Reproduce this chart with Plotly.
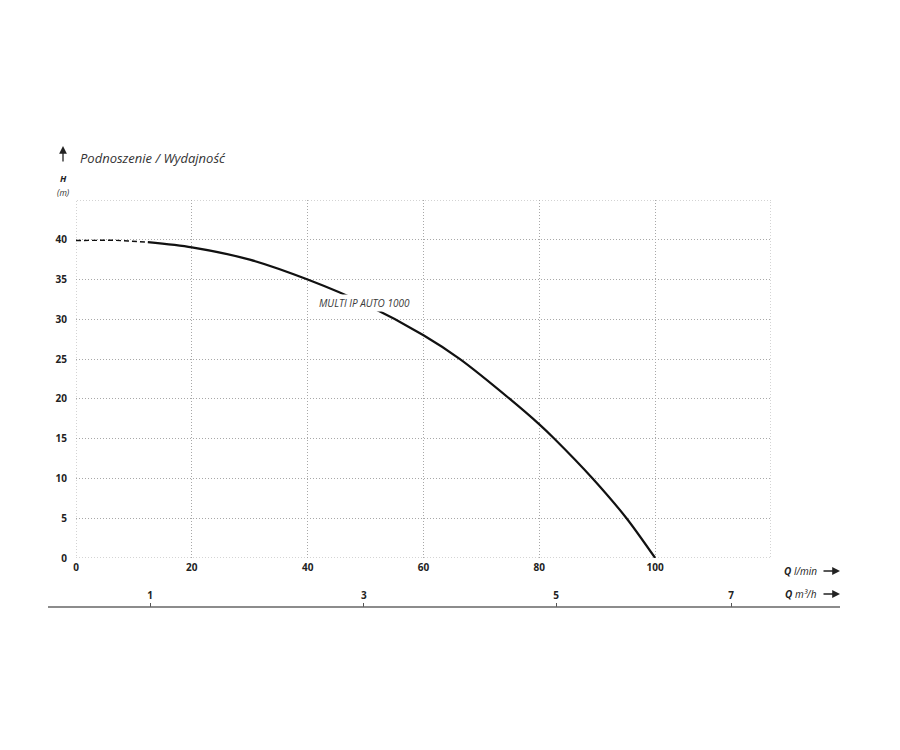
import plotly.graph_objects as go

# Data
q_dashed = [0, 3, 6, 9, 12.4]
h_dashed = [39.9, 39.95, 39.95, 39.85, 39.7]

q_solid = [12.4, 20, 30, 40, 50, 60, 66.3, 74.9, 80, 82.6, 89.2, 95.05, 100]
h_solid = [39.7, 39.05, 37.5, 35.0, 31.9, 28.0, 25.0, 20.0, 16.8, 15.0, 10.0, 5.0, 0.0]

x_tickvals = [0, 20, 40, 60, 80, 100, 120]
x_ticktext = ["0", "20", "40", "60", "80", "100", ""]
y_tickvals = [0, 5, 10, 15, 20, 25, 30, 35, 40, 45]
y_ticktext = ["0", "5", "10", "15", "20", "25", "30", "35", "40", ""]
x_range = [0, 120]
y_range = [0, 45]

# secondary Q (m3/h) scale: tick positions as drawn (in l/min units) and labels
m3h_tick_pos = [12.8, 49.7, 82.9, 113.1]
m3h_tick_text = ["1", "3", "5", "7"]

curve_name = "MULTI IP AUTO 1000"
title_text = "Podnoszenie / Wydajność"

FONT = "Open Sans"
OFF = 8  # page body margin

fig = go.Figure()
fig.add_trace(go.Scatter(x=q_dashed, y=h_dashed, mode="lines",
                         line=dict(color="#111", width=1.4, dash="5px,3px"),
                         showlegend=False, hoverinfo="skip"))
fig.add_trace(go.Scatter(x=q_solid, y=h_solid, mode="lines",
                         line=dict(color="#111", width=2.2, shape="spline", smoothing=0.8),
                         showlegend=False, hoverinfo="skip"))
fig.add_trace(go.Scatter(x=[0], y=[0], xaxis="x2", yaxis="y", mode="markers",
                         marker=dict(opacity=0), showlegend=False, hoverinfo="skip"))

W, H = 900, 750
l = 76 - OFF
t = 200 - OFF
pw = 695
r = W - l - pw
bottom_line = 607 - OFF
b = H - bottom_line
ph = H - t - b
ydom0 = (bottom_line - (558 - OFF)) / ph

GRIDC = "#a8a8a8"
GRIDDASH = "1px,2px"
grid = dict(showgrid=True, gridcolor=GRIDC, griddash=GRIDDASH, gridwidth=1,
            zeroline=False, showline=False, ticks="")
tickfont = dict(size=10, family=FONT, weight="bold", color="#222")

fig.update_layout(
    width=W, height=H,
    margin=dict(t=t, b=b, l=l, r=r),
    paper_bgcolor="white", plot_bgcolor="white",
    font=dict(family=FONT, color="#222"),
    xaxis=dict(range=x_range, tickvals=x_tickvals, ticktext=x_ticktext,
               tickfont=tickfont, anchor="y", ticklabelstandoff=2, **grid),
    yaxis=dict(range=y_range, tickvals=y_tickvals, ticktext=y_ticktext,
               domain=[ydom0, 1], tickfont=tickfont, ticklabelstandoff=8, **grid),
    xaxis2=dict(range=x_range, overlaying="x", anchor="free", position=0,
                side="top", showgrid=False, zeroline=False, showline=False,
                tickvals=m3h_tick_pos, ticktext=m3h_tick_text,
                ticks="outside", ticklen=4, tickcolor="#555", tickwidth=1,
                tickfont=tickfont),
)

# dotted frame (edge grid lines)
fig.add_shape(type="rect", xref="x", yref="y", x0=x_range[0], x1=x_range[1],
              y0=y_range[0], y1=y_range[1], layer="below",
              line=dict(color=GRIDC, width=1, dash=GRIDDASH))


def px_x(p):
    return (p - OFF - l) / pw


def px_y(p):
    return (H - b - (p - OFF)) / ph


# bottom axis line for m3/h scale (extends beyond the plot area)
fig.add_shape(type="line", xref="paper", yref="paper", x0=px_x(48), x1=px_x(840), y0=0, y1=0,
              line=dict(color="#666", width=1.5))

# curve label
fig.add_annotation(x=49.8, y=32.0, xref="x", yref="y", text="<i>" + curve_name + "</i>",
                   xanchor="center", yanchor="middle",
                   showarrow=False, bgcolor="white", font=dict(size=10, family=FONT, color="#3a3a3a"),
                   borderpad=1)

# title with up arrow
fig.add_annotation(x=px_x(78), y=px_y(158), xref="paper", yref="paper",
                   xanchor="left", yanchor="middle",
                   text="<i>" + title_text + "</i>", showarrow=False,
                   font=dict(size=13, family=FONT, color="#333"))
fig.add_annotation(x=px_x(63), y=px_y(146), xref="paper", yref="paper", text="",
                   showarrow=True, ax=0, ay=17, arrowhead=2, arrowsize=1.2, arrowwidth=1.3,
                   arrowcolor="#222")
fig.add_annotation(x=px_x(63), y=px_y(178), xref="paper", yref="paper",
                   xanchor="center", yanchor="middle", borderpad=0,
                   text="<b><i>H</i></b>", showarrow=False, font=dict(size=9, family=FONT, color="#222"))
fig.add_annotation(x=px_x(63), y=px_y(192), xref="paper", yref="paper",
                   xanchor="center", yanchor="middle", borderpad=0,
                   text="<i>(m)</i>", showarrow=False, font=dict(size=8.5, family=FONT, color="#333"))

# axis unit labels with arrows
fig.add_annotation(x=px_x(819), y=px_y(571), xref="paper", yref="paper",
                   xanchor="right", yanchor="middle",
                   text="<b><i>Q</i></b> <i>l/min</i>", showarrow=False,
                   font=dict(size=10, family=FONT, color="#222"))
fig.add_annotation(x=px_x(819), y=px_y(594), xref="paper", yref="paper",
                   xanchor="right", yanchor="middle",
                   text="<b><i>Q</i></b> <i>m³/h</i>", showarrow=False,
                   font=dict(size=10, family=FONT, color="#222"))
for yy in (571, 594):
    fig.add_annotation(x=px_x(840), y=px_y(yy), xref="paper", yref="paper", text="",
                       showarrow=True, ax=-18, ay=0, arrowhead=2, arrowsize=1.2, arrowwidth=1.3,
                       arrowcolor="#222")

fig.write_html("out.html")
